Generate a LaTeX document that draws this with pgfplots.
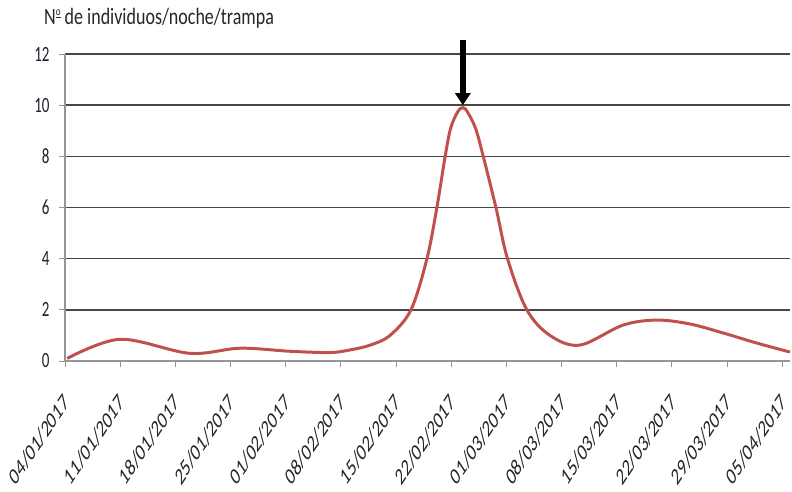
\documentclass[border=0pt]{standalone}
\usepackage{pgfplots}
\pgfplotsset{compat=1.18}
\usetikzlibrary{arrows.meta}
\usepackage{fontspec}
\setmainfont{Carlito}

\definecolor{linered}{RGB}{192,80,77}
\definecolor{axisgray}{RGB}{150,150,150}
\definecolor{labelink}{RGB}{30,32,48}

\begin{document}
\begin{tikzpicture}
\path[use as bounding box] (-65bp,-131bp) rectangle (727bp,361bp);
\begin{axis}[
scale only axis,
width=725bp, height=307bp,
xmin=0, xmax=13.14,
ymin=0, ymax=12,
ytick={0,2,...,12},
xtick={0,...,13},
xticklabels={04/01/2017,11/01/2017,18/01/2017,25/01/2017,01/02/2017,08/02/2017,15/02/2017,22/02/2017,01/03/2017,08/03/2017,15/03/2017,22/03/2017,29/03/2017,05/04/2017},
axis x line*=bottom,
axis y line*=left,
axis line style={axisgray, line width=1.3pt},
ymajorgrids,
major grid style={black!72, line width=1.5pt},
tick style={axisgray, line width=1pt},
tick align=outside,
major tick length=6bp,
xticklabel shift=28bp,
x tick label style={xshift=4bp, yscale=1.5, rotate=45, anchor=east, font=\fontsize{16bp}{18bp}\selectfont, text=black!85},
y tick label style={xshift=-6bp, yscale=1.45, font=\fontsize{15bp}{18bp}\selectfont, text=labelink},
/pgf/number format/assume math mode=true,
clip=false,
]
\addplot[linered, line width=3pt, smooth, tension=0.55] coordinates {
(0.04,0.1)
(1.0,0.85)
(2.26,0.3)
(3.17,0.5)
(4.08,0.38)
(4.8,0.33)
(5.16,0.43)
(5.53,0.62)
(5.89,1.0)
(6.27,2.0)
(6.56,4)
(6.74,6)
(6.89,8)
(6.99,9.1)
(7.12,9.75)
(7.21,9.9)
(7.29,9.75)
(7.44,9.1)
(7.58,8)
(7.81,6)
(8.02,4)
(8.37,2)
(8.79,1.0)
(9.33,0.62)
(10.11,1.4)
(10.72,1.6)
(11.32,1.45)
(11.92,1.1)
(12.54,0.7)
(13.14,0.35)
};
\draw[black, line width=6bp, -{Triangle[width=15bp,length=12bp]}] (axis cs:7.21,12.55) -- (axis cs:7.21,10.0);
\end{axis}
\node[font=\fontsize{18bp}{20bp}\selectfont, yscale=1.3, text=black!85] at (94bp,343bp) {N\kern0.3pt\raisebox{0.75ex}{\fontsize{9bp}{9bp}\selectfont\underline{o}} de individuos/noche/trampa};
\end{tikzpicture}
\end{document}
